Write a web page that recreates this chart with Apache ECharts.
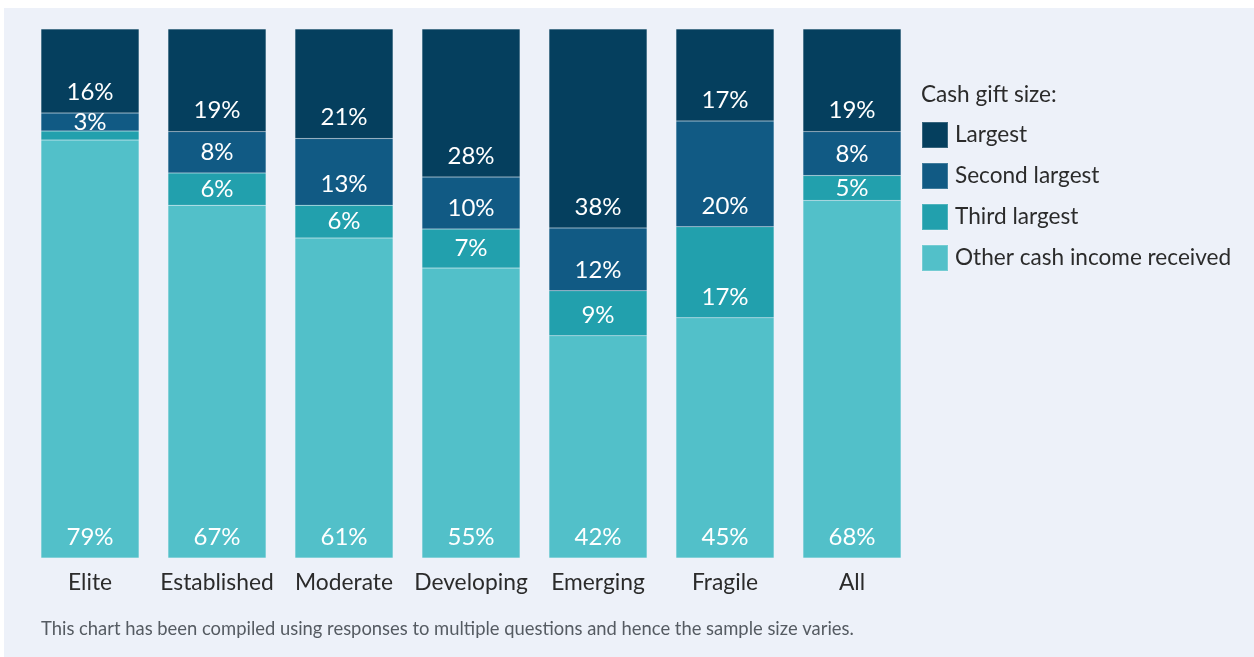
<!DOCTYPE html>
<html><head><meta charset="utf-8">
<script src="https://cdn.jsdelivr.net/npm/echarts@6/dist/echarts.min.js"></script>
<style>html,body{margin:0;padding:0;background:#fff}#c{width:1254px;height:657px}</style>
</head><body><div id="c"></div>
<script>
const categories = ['Elite','Established','Moderate','Developing','Emerging','Fragile','All'];
const seriesNames = ['Largest','Second largest','Third largest','Other cash income received'];
const largest = [15.9, 19.4, 20.7, 28.0, 37.6, 17.4, 19.4];
const second  = [3.4, 7.8, 12.6, 9.8, 11.9, 20.0, 8.3];
const third   = [1.7, 6.1, 6.2, 7.4, 8.5, 17.2, 4.7];
const other   = [79.0, 66.7, 60.5, 54.8, 42.0, 45.4, 67.6];
const colors = {'Largest':'#053f5e','Second largest':'#115a84','Third largest':'#22a0ad','Other cash income received':'#52c0c9'};
const legendTitle = 'Cash gift size:';
const footnote = 'This chart has been compiled using responses to multiple questions and hence the sample size varies.';

const FONT = 'Lato, "Noto Sans", sans-serif';
const chart = echarts.init(document.getElementById('c'), null, {renderer:'canvas'});
function mk(name, data){
  return {
    name, type:'bar', stack:'s', barWidth:98,
    data: data.map(v => v < 7.9 ? {value:v, label:{position:'inside'}} : {value:v}),
    itemStyle:{color:colors[name], borderColor:'rgba(255,255,255,0.2)', borderWidth:0.5},
    label:{show:true, position:'insideBottom', distance:9, color:'#fff', fontSize:24, fontFamily:FONT,
      formatter:p=> p.value < 3 ? '' : Math.round(p.value)+'%'},
    emphasis:{disabled:true}
  };
}
chart.setOption({
  backgroundColor:'#ffffff',
  animation:false,
  graphic:[
    {type:'rect', left:4, top:8, shape:{width:1250, height:649}, style:{fill:'#edf1f9'}, z:-10},
    {type:'text', left:41, top:620, style:{text:footnote, fontSize:18.4, fontFamily:FONT, fill:'#555b62'}}
  ],
  title:{text:legendTitle, left:921, top:83, padding:0, textStyle:{fontSize:22.6, fontWeight:'normal', fontFamily:FONT, color:'#2b2b2b'}},
  legend:{
    data:seriesNames, orient:'vertical', left:921, top:121, padding:0, itemWidth:26, itemHeight:26, itemGap:13,
    icon:'rect', selectedMode:false,
    textStyle:{fontSize:22.6, fontFamily:FONT, color:'#2b2b2b', padding:[0,0,0,2]}
  },
  grid:{left:26.5, right:338.5, top:29, bottom:99},
  xAxis:{type:'category', data:categories, axisLine:{show:false}, axisTick:{show:false},
    axisLabel:{interval:0, fontSize:22.8, fontFamily:FONT, color:'#2b2b2b', margin:13}},
  yAxis:{type:'value', min:0, max:100, show:false},
  series:[mk('Other cash income received', other), mk('Third largest', third), mk('Second largest', second), mk('Largest', largest)]
});
</script></body></html>
